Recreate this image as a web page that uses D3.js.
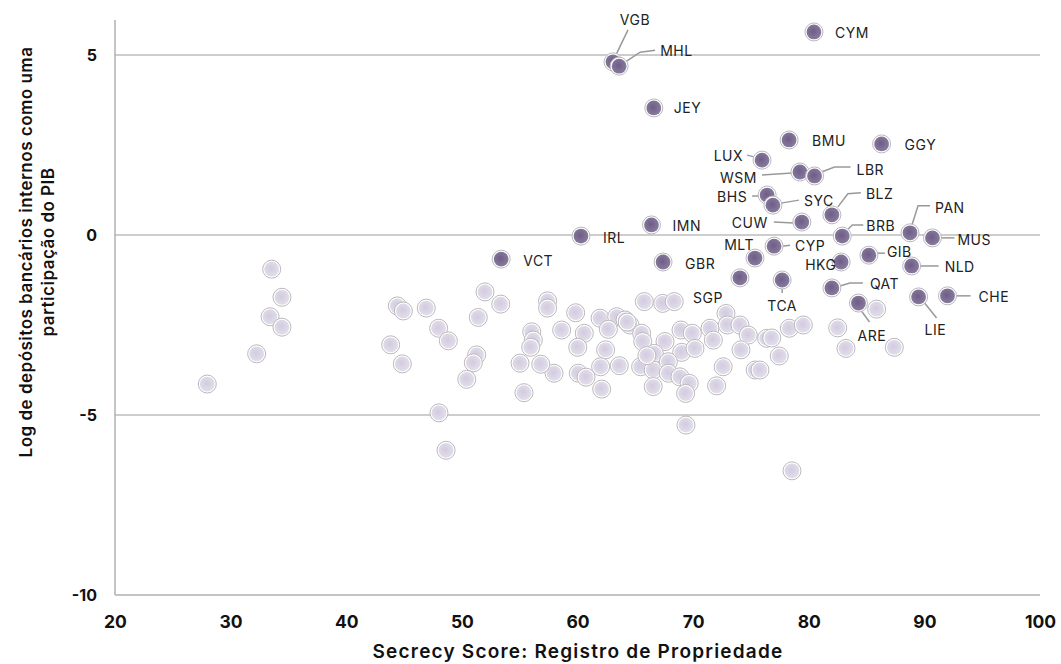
<!DOCTYPE html>
<html>
<head>
<meta charset="utf-8">
<script src="https://cdn.jsdelivr.net/npm/d3@7"></script>
<style>
  body { margin: 0; background: #fff; }
  svg { display: block; }
</style>
</head>
<body>
<svg id="chart" width="1061" height="664"></svg>
<script>
// ---- Data ----
const xTicks = [20, 30, 40, 50, 60, 70, 80, 90, 100];
const yTicks = [5, 0, -5, -10];
const xTitle = "Secrecy Score: Registro de Propriedade";
const yTitleLines = ["Log de depósitos bancários internos como uma", "participação do PIB"];

// Highlighted (labelled) jurisdictions
const codes = ["VGB","MHL","CYM","JEY","BMU","GGY","LUX","WSM","LBR","BHS","SYC","BLZ","CUW","IMN","IRL","BRB","PAN","MUS","MLT","CYP","GIB","HKG","NLD","GBR","VCT","QAT","ARE","LIE","CHE","SGP","TCA"];
const codeX = [63.07,63.6,80.45,66.6,78.3,86.3,75.96,79.24,80.5,76.4,76.9,82.0,79.4,66.4,60.3,82.9,88.76,90.7,75.35,77.0,85.2,82.8,88.9,67.4,53.4,82.0,84.3,89.5,92.0,74.05,77.7];
const codeY = [4.81,4.69,5.64,3.53,2.64,2.53,2.08,1.75,1.64,1.11,0.83,0.56,0.36,0.28,-0.03,-0.03,0.06,-0.08,-0.64,-0.31,-0.56,-0.75,-0.86,-0.75,-0.67,-1.47,-1.89,-1.72,-1.69,-1.19,-1.25];

// Other jurisdictions (unlabelled)
const otherX = [33.55,34.44,33.41,34.44,32.25,27.98,44.42,44.94,46.92,43.84,47.99,48.83,44.85,48.02,48.63,52.0,51.42,53.36,51.28,50.99,50.42,57.41,57.41,59.84,56.04,56.18,55.95,58.63,60.59,60.02,61.95,63.39,64.11,62.67,64.54,65.78,67.37,68.37,65.55,65.64,67.57,66.64,68.95,69.93,69.01,70.16,71.46,71.75,72.84,72.96,74.05,74.77,74.14,76.36,76.8,78.32,79.53,77.45,72.6,72.03,75.37,75.78,62.43,63.62,62.0,60.07,60.74,62.09,57.97,56.82,55.03,55.37,65.46,66.55,67.86,67.86,66.55,68.86,69.66,69.35,69.38,78.55,82.5,83.22,85.87,87.4,66.0,64.3];
const otherY = [-0.95,-1.73,-2.27,-2.56,-3.30,-4.14,-1.97,-2.11,-2.03,-3.05,-2.59,-2.94,-3.58,-4.94,-5.98,-1.58,-2.29,-1.92,-3.33,-3.55,-4.01,-1.83,-2.03,-2.16,-2.69,-2.92,-3.12,-2.64,-2.73,-3.12,-2.31,-2.27,-2.36,-2.62,-2.5,-1.85,-1.90,-1.85,-2.73,-2.96,-2.96,-3.29,-2.64,-2.73,-3.26,-3.15,-2.59,-2.92,-2.18,-2.5,-2.5,-2.78,-3.19,-2.87,-2.86,-2.59,-2.5,-3.36,-3.66,-4.19,-3.75,-3.75,-3.19,-3.63,-3.66,-3.84,-3.95,-4.28,-3.84,-3.59,-3.56,-4.38,-3.66,-3.75,-3.52,-3.84,-4.21,-3.94,-4.12,-4.40,-5.28,-6.55,-2.58,-3.15,-2.06,-3.12,-3.35,-2.42];

// ---- Label layout (pixel offsets from the point: text dx, dy, anchor, leader polyline) ----
const labelLayout = {
  VGB: {dx: 22, dy: -42, a: "middle", lead: [[2,-5],[15,-32]]},
  MHL: {dx: 41, dy: -16, a: "start", lead: [[6,-4],[21,-14],[36,-16]]},
  CYM: {dx: 21, dy: 1, a: "start"},
  JEY: {dx: 20, dy: 0, a: "start"},
  BMU: {dx: 23, dy: 1, a: "start"},
  GGY: {dx: 23, dy: 1, a: "start"},
  LUX: {dx: -19, dy: -5, a: "end", lead: [[-15,-5],[-7,-3]]},
  WSM: {dx: -43, dy: 5, a: "end", lead: [[-38,3],[-8,1]]},
  LBR: {dx: 42, dy: -6, a: "start", lead: [[7,-4],[20,-9],[36,-9]]},
  BHS: {dx: -20, dy: 1, a: "end", lead: [[-15,1],[-7,1]]},
  SYC: {dx: 31, dy: -5, a: "start", lead: [[8,-2],[26,-5]]},
  BLZ: {dx: 34, dy: -21, a: "start", lead: [[6,-8],[16,-21],[29,-22]]},
  CUW: {dx: -34, dy: 0, a: "end", lead: [[-28,0],[-8,1]]},
  IMN: {dx: 21, dy: 1, a: "start"},
  IRL: {dx: 22, dy: 1, a: "start"},
  BRB: {dx: 24, dy: -11, a: "start", lead: [[6,-7],[10,-11],[21,-11]]},
  PAN: {dx: 25, dy: -25, a: "start", lead: [[2,-8],[8,-27],[20,-27]]},
  MUS: {dx: 25, dy: 2, a: "start", lead: [[8,0],[22,0]]},
  MLT: {dx: -1, dy: -14, a: "end"},
  CYP: {dx: 21, dy: -1, a: "start", lead: [[8,0],[16,-1]]},
  GIB: {dx: 18, dy: -4, a: "start", lead: [[8,-2],[16,-2]]},
  HKG: {dx: -36, dy: 2, a: "start"},
  NLD: {dx: 33, dy: 1, a: "start", lead: [[8,0],[27,0]]},
  GBR: {dx: 22, dy: 1, a: "start"},
  VCT: {dx: 22, dy: 1, a: "start"},
  QAT: {dx: 38, dy: -4, a: "start", lead: [[8,-2],[18,-5],[31,-5]]},
  ARE: {dx: -1, dy: 32, a: "start", lead: [[3,8],[11,19]]},
  LIE: {dx: 6, dy: 33, a: "start", lead: [[6,6],[18,21]]},
  CHE: {dx: 31, dy: 1, a: "start", lead: [[8,0],[23,0]]},
  SGP: {dx: -47, dy: 20, a: "start"},
  TCA: {dx: 0, dy: 25, a: "middle", lead: [[0,8],[0,13]]}
};

// ---- Chart ----
const svg = d3.select("#chart");
const x = d3.scaleLinear().domain([20, 100]).range([115, 1040]);
const y = d3.scaleLinear().domain([-10, 5]).range([595, 55]);

const defs = svg.append("defs");
function grad(id, c0, c1) {
  const g = defs.append("radialGradient").attr("id", id).attr("cx", "45%").attr("cy", "45%").attr("r", "60%");
  g.append("stop").attr("offset", "0%").attr("stop-color", c0);
  g.append("stop").attr("offset", "100%").attr("stop-color", c1);
}
grad("gDark", "#6e5d86", "#8a7da0");
grad("gLight", "#d3cbe0", "#e3dfea");

// gridlines
svg.append("g").selectAll("line").data(yTicks.filter(d => d > -10)).join("line")
  .attr("x1", 115).attr("x2", 1040)
  .attr("y1", d => y(d)).attr("y2", d => y(d))
  .attr("stroke", "#bdbdbd").attr("stroke-width", 1.5);

// axes lines
svg.append("line").attr("x1", 115).attr("x2", 115).attr("y1", 20).attr("y2", 595)
  .attr("stroke", "#b0b0b0").attr("stroke-width", 1.5);
svg.append("line").attr("x1", 115).attr("x2", 1040).attr("y1", 595).attr("y2", 595)
  .attr("stroke", "#b0b0b0").attr("stroke-width", 1.5);

// axis tick labels via d3 axes
const xAxis = d3.axisBottom(x).tickValues(xTicks).tickSize(0).tickPadding(21);
const gx = svg.append("g").attr("transform", "translate(0,595)").call(xAxis);
gx.select(".domain").remove();
gx.selectAll("text").attr("font-family", "Inter, sans-serif").attr("font-weight", 700)
  .attr("font-size", 17.5).attr("fill", "#111");

const yAxis = d3.axisLeft(y).tickValues(yTicks).tickSize(0).tickPadding(18)
  .tickFormat(d => d);
const gy = svg.append("g").attr("transform", "translate(115,0)").call(yAxis);
gy.select(".domain").remove();
gy.selectAll("text").attr("font-family", "Inter, sans-serif").attr("font-weight", 700)
  .attr("font-size", 16).attr("fill", "#111");

// titles
svg.append("text").attr("x", 578).attr("y", 658).attr("text-anchor", "middle")
  .attr("font-family", "Inter, sans-serif").attr("font-weight", 600).attr("font-size", 19)
  .attr("letter-spacing", 1.2).attr("fill", "#111").text(xTitle);
const yt = svg.append("text").attr("transform", "translate(32,252) rotate(-90)")
  .attr("text-anchor", "middle").attr("font-family", "Inter, sans-serif").attr("font-weight", 600)
  .attr("font-size", 17).attr("letter-spacing", 0.5).attr("fill", "#111");
yTitleLines.forEach((l, i) => yt.append("tspan").attr("x", 0).attr("dy", i === 0 ? 0 : 22).text(l));

// points
function drawPoints(data, fillId) {
  const g = svg.append("g");
  const p = g.selectAll("g").data(data).join("g")
    .attr("transform", d => `translate(${x(d.x)},${y(d.y)})`);
  p.append("circle").attr("r", 9).attr("fill", "#fff").attr("stroke", "#b9b9bd").attr("stroke-width", 1);
  p.append("circle").attr("r", 7.4).attr("fill", `url(#${fillId})`);
}
const others = otherX.map((v, i) => ({x: v, y: otherY[i]}));
const highlights = codes.map((c, i) => ({code: c, x: codeX[i], y: codeY[i]}));
drawPoints(others, "gLight");

// leader lines
const lg = svg.append("g");
highlights.forEach(d => {
  const L = labelLayout[d.code];
  if (L && L.lead) {
    const px = x(d.x), py = y(d.y);
    lg.append("path")
      .attr("d", d3.line()(L.lead.map(p => [px + p[0], py + p[1]])))
      .attr("fill", "none").attr("stroke", "#999").attr("stroke-width", 1.5);
  }
});
drawPoints(highlights, "gDark");

// labels
svg.append("g").selectAll("text").data(highlights).join("text")
  .attr("x", d => x(d.x) + labelLayout[d.code].dx)
  .attr("y", d => y(d.y) + labelLayout[d.code].dy)
  .attr("text-anchor", d => labelLayout[d.code].a)
  .attr("dominant-baseline", "central")
  .attr("font-family", "Inter, sans-serif").attr("font-size", 14).attr("fill", "#222")
  .attr("letter-spacing", 0.5)
  .text(d => d.code);
</script>
</body>
</html>
